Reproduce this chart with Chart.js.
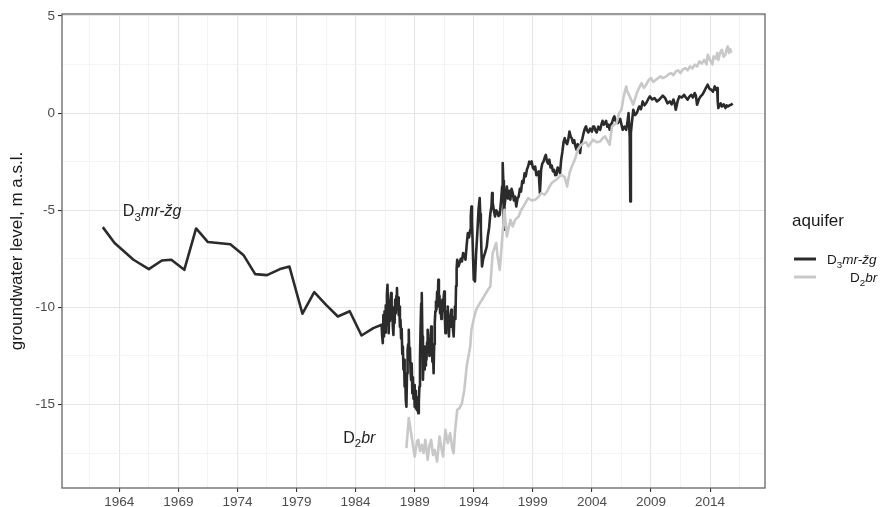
<!DOCTYPE html>
<html>
<head>
<meta charset="utf-8">
<style>
  body { margin: 0; background: #fff; }
  canvas { display: block; }
</style>
</head>
<body>
  <canvas id="levelChart" width="880" height="507"></canvas>
  <script src="https://cdn.jsdelivr.net/npm/chart.js"></script>
  <script>
    // groundwater level, m a.s.l. — D3mr-žg aquifer (yearly until 1986, then dense)
    const d3Years = [
      1962.6, 1963.6, 1965.2, 1966.5, 1967.6, 1968.4, 1969.5, 1970.5, 1971.5, 1973.4,
      1974.5, 1975.5, 1976.5, 1977.6, 1978.4, 1979.5, 1980.5, 1981.5, 1982.5, 1983.5,
      1984.5, 1985.5,
      1986.20, 1986.25, 1986.30, 1986.35, 1986.40, 1986.45, 1986.50, 1986.55, 1986.60, 1986.65,
      1986.70, 1986.75, 1986.80, 1986.85, 1986.90, 1986.95, 1987.00, 1987.05, 1987.10, 1987.15,
      1987.20, 1987.25, 1987.30, 1987.35, 1987.40, 1987.45, 1987.50, 1987.55, 1987.60, 1987.65,
      1987.70, 1987.75, 1987.80, 1987.85, 1987.90, 1987.95, 1988.00, 1988.05, 1988.10, 1988.15,
      1988.20, 1988.25, 1988.30, 1988.35, 1988.40, 1988.45, 1988.50, 1988.55, 1988.60, 1988.65,
      1988.70, 1988.75, 1988.80, 1988.85, 1988.90, 1988.95, 1989.00, 1989.05, 1989.10, 1989.15,
      1989.20, 1989.25, 1989.30, 1989.35, 1989.40, 1989.45, 1989.50, 1989.55, 1989.60, 1989.65,
      1989.70, 1989.75, 1989.80, 1989.85, 1989.90, 1989.95, 1990.00, 1990.05, 1990.10, 1990.15,
      1990.20, 1990.25, 1990.30, 1990.35, 1990.40, 1990.45, 1990.50, 1990.55, 1990.60, 1990.65,
      1990.70, 1990.75, 1990.80, 1990.85, 1990.90, 1990.95, 1991.00, 1991.05, 1991.10, 1991.15,
      1991.20, 1991.25, 1991.30, 1991.35, 1991.40, 1991.45, 1991.50, 1991.55, 1991.60, 1991.65,
      1991.70, 1991.75, 1991.80, 1991.85, 1991.90, 1991.95, 1992.00, 1992.05, 1992.10, 1992.15,
      1992.20, 1992.25, 1992.30, 1992.35, 1992.40, 1992.45, 1992.50, 1992.55, 1992.60,
      1992.7, 1992.8, 1992.9, 1993.0, 1993.1, 1993.2, 1993.3, 1993.4, 1993.5, 1993.6,
      1993.7, 1993.75, 1993.8, 1993.85, 1993.9, 1993.95, 1994.0, 1994.05, 1994.1, 1994.2,
      1994.3, 1994.4, 1994.5, 1994.55, 1994.6, 1994.65, 1994.7, 1994.8, 1994.9, 1995.0,
      1995.1, 1995.2, 1995.3, 1995.4, 1995.5, 1995.55, 1995.6, 1995.7, 1995.8, 1995.9,
      1996.0, 1996.1, 1996.2, 1996.3, 1996.4, 1996.45, 1996.5, 1996.55, 1996.6, 1996.7,
      1996.8, 1996.9, 1997.0, 1997.1, 1997.2, 1997.3, 1997.4, 1997.5, 1997.6, 1997.7,
      1997.8, 1997.9, 1998.0, 1998.1, 1998.2, 1998.3, 1998.4, 1998.5, 1998.6, 1998.7,
      1998.8, 1998.9, 1999.0, 1999.1, 1999.2, 1999.3, 1999.4, 1999.5, 1999.55, 1999.6,
      1999.7, 1999.8, 1999.9, 2000.0, 2000.1, 2000.2, 2000.3, 2000.4, 2000.5, 2000.6,
      2000.7, 2000.8, 2000.9, 2001.0, 2001.1, 2001.2, 2001.3, 2001.4, 2001.5, 2001.6,
      2001.7, 2001.8, 2001.9, 2002.0, 2002.1, 2002.2, 2002.3, 2002.4, 2002.5, 2002.6,
      2002.7, 2002.8, 2002.9, 2003.0, 2003.1, 2003.2, 2003.3, 2003.4, 2003.5, 2003.6,
      2003.7, 2003.85, 2004.0, 2004.1, 2004.2, 2004.3, 2004.4, 2004.55, 2004.7, 2004.8,
      2004.9, 2005.0, 2005.1, 2005.2, 2005.3, 2005.4, 2005.5, 2005.6, 2005.7, 2005.8,
      2005.9, 2006.0, 2006.2, 2006.4, 2006.6, 2006.75, 2006.9, 2007.0, 2007.1, 2007.2,
      2007.25, 2007.3, 2007.4, 2007.5, 2007.65, 2007.8, 2008.0, 2008.15, 2008.3, 2008.45,
      2008.6, 2008.75, 2008.9, 2009.1, 2009.3, 2009.5, 2009.7, 2009.85, 2010.0, 2010.2,
      2010.4, 2010.6, 2010.75, 2010.9, 2011.0, 2011.1, 2011.25, 2011.4, 2011.6, 2011.8,
      2011.95, 2012.1, 2012.25, 2012.4, 2012.55, 2012.7, 2012.8, 2012.9, 2013.05, 2013.2,
      2013.35, 2013.5, 2013.65, 2013.8, 2013.95, 2014.1, 2014.25, 2014.4, 2014.5, 2014.6,
      2014.65, 2014.7, 2014.8, 2014.9, 2015.0, 2015.15, 2015.3, 2015.4, 2015.5, 2015.65,
      2015.8, 2015.9
    ];
    const d3Levels = [
      -5.87, -6.69, -7.55, -8.03, -7.59, -7.55, -8.07, -5.94, -6.64, -6.75,
      -7.30, -8.29, -8.34, -8.03, -7.90, -10.33, -9.22, -9.87, -10.47, -10.20,
      -11.45, -11.07,
      -10.9, -11.5, -11.84, -10.4, -11.5, -10.2, -11.3, -9.9, -10.9, -9.4,
      -8.84, -10.4, -11.33, -10.1, -10.7, -9.6, -9.27, -10.6, -10.0, -11.0,
      -11.42, -10.2, -10.8, -9.6, -10.3, -9.4, -9.01, -10.1, -9.5, -10.4,
      -9.96, -11.0, -10.64, -11.6, -11.1, -12.4, -12.02, -13.2, -12.7, -14.08,
      -13.6, -14.8, -15.11, -13.4, -12.2, -11.9, -11.16, -12.70, -12.1, -13.3,
      -13.73, -12.9, -14.42, -13.6, -14.7, -14.0, -15.11, -14.3, -15.2, -14.6,
      -15.3, -14.8, -15.45, -14.9, -14.08, -12.6, -11.0, -9.8, -9.27, -11.5,
      -13.73, -12.6, -13.2, -12.02, -13.0, -12.3, -12.70, -11.8, -11.16, -12.2,
      -11.6, -12.5, -12.36, -11.4, -10.99, -12.1, -12.8, -12.2, -13.39, -11.9,
      -10.81, -10.2, -9.7, -10.1, -9.2, -9.8, -8.58, -9.96, -9.4, -10.3,
      -9.7, -10.6, -10.30, -9.6, -10.2, -9.5, -9.19, -10.4, -11.33, -10.5,
      -10.9, -10.2, -9.96, -10.8, -11.50, -10.6, -11.0, -10.4, -10.13, -10.9,
      -10.5, -11.2, -11.50, -10.5, -9.96, -10.6, -8.9, -8.0, -7.55,
      -7.9, -7.72, -7.5, -7.64, -7.2, -7.3, -7.55, -6.8, -6.18, -6.4,
      -6.01, -5.3, -4.81, -5.6, -6.5, -7.6, -8.58, -8.1, -8.67, -7.2,
      -6.2, -5.0, -4.38, -5.2, -6.0, -7.1, -7.90, -7.5, -7.3, -7.1,
      -6.87, -6.3, -5.9, -5.2, -4.8, -4.12, -4.6, -5.0, -5.32, -5.0,
      -5.1, -5.3, -5.24, -4.6, -3.78, -2.57, -3.5, -6.01, -4.8, -4.3,
      -3.78, -4.4, -4.0, -4.46, -3.9, -4.12, -4.5, -4.3, -4.81, -4.4,
      -4.3, -3.9, -4.04, -3.5, -3.6, -3.1, -3.26, -2.9, -2.75, -2.5,
      -2.6, -2.49, -2.8, -2.9, -2.75, -3.2, -3.1, -3.0, -3.6, -4.12,
      -2.92, -2.6, -2.5, -2.3, -2.15, -2.5, -2.6, -2.40, -2.8, -2.7,
      -3.0, -2.92, -3.2, -3.18, -2.8, -2.9, -3.09, -2.4, -2.0, -1.5,
      -1.29, -1.5, -1.6, -1.37, -0.95, -1.2, -1.3, -1.54, -1.4, -1.7,
      -1.89, -1.6, -1.7, -2.06, -1.5, -1.3, -1.03, -0.8, -0.69, -0.9,
      -1.0, -0.8, -0.95, -0.7, -0.7, -0.9, -1.0, -0.7, -0.86, -0.6,
      -0.4, -0.6, -0.52, -0.4, -0.7, -0.6, -0.86, -0.6, -0.5, -0.3,
      -0.17, -0.4, -0.52, -0.3, -0.86, -0.7, -0.86, -0.5, 0.0, -1.2,
      -4.55, -1.0, -0.4, 0.17, -0.1, 0.0, 0.34, 0.2, 0.60, 0.4,
      0.52, 0.7, 0.86, 0.7, 0.77, 0.6, 0.69, 0.8, 0.9, 0.77,
      0.5, 0.60, 0.45, 0.7, 0.5, 0.17, 0.6, 0.86, 0.8, 0.94,
      0.8, 0.69, 0.85, 0.94, 0.8, 1.03, 0.9, 0.43, 0.7, 0.86,
      0.95, 1.11, 1.3, 1.46, 1.25, 1.20, 1.1, 1.37, 1.2, 1.29,
      0.6, 0.26, 0.4, 0.5, 0.34, 0.45, 0.26, 0.4, 0.34, 0.4,
      0.43, 0.5
    ];

    // groundwater level, m a.s.l. — D2br aquifer
    const d2Years = [
      1988.3, 1988.5, 1988.7, 1988.9, 1989.0, 1989.2, 1989.3, 1989.45, 1989.6, 1989.75,
      1989.9, 1990.1, 1990.25, 1990.4, 1990.55, 1990.7, 1990.9, 1991.1, 1991.25, 1991.4,
      1991.6, 1991.8, 1992.0, 1992.2, 1992.3, 1992.4, 1992.6, 1992.8, 1993.0, 1993.2,
      1993.4, 1993.7, 1993.8, 1994.0, 1994.2, 1994.5, 1994.7, 1995.0, 1995.3, 1995.4,
      1995.6, 1995.9, 1996.0, 1996.2, 1996.4, 1996.6, 1996.8, 1997.1, 1997.3, 1997.5,
      1997.8, 1998.0, 1998.2, 1998.4, 1998.6, 1998.9, 1999.2, 1999.5, 1999.7, 2000.0,
      2000.2, 2000.4, 2000.6, 2000.8, 2001.0, 2001.2, 2001.4, 2001.7, 2001.9, 2002.1,
      2002.3, 2002.6, 2002.8, 2003.0, 2003.3, 2003.5, 2003.7, 2004.1, 2004.4, 2004.7,
      2004.9, 2005.1, 2005.3, 2005.5, 2005.7, 2006.1, 2006.3, 2006.5, 2006.7, 2006.9,
      2007.0, 2007.2, 2007.5, 2007.8, 2008.0, 2008.2, 2008.4, 2008.6, 2008.8, 2009.0,
      2009.2, 2009.4, 2009.6, 2009.8, 2010.0, 2010.3, 2010.5, 2010.7, 2010.9, 2011.1,
      2011.3, 2011.5, 2011.7, 2011.9, 2012.1, 2012.3, 2012.5, 2012.7, 2012.9, 2013.1,
      2013.3, 2013.5, 2013.7, 2013.8, 2014.0, 2014.2, 2014.3, 2014.5, 2014.6, 2014.7,
      2014.85, 2015.0, 2015.15, 2015.3, 2015.4, 2015.5, 2015.6, 2015.7, 2015.8
    ];
    const d2Levels = [
      -17.25, -15.70, -16.48, -17.3, -17.68, -16.9, -16.82, -17.4, -17.08, -17.5,
      -16.82, -17.85, -17.1, -16.82, -17.6, -17.34, -17.94, -16.65, -17.2, -17.68,
      -16.31, -16.99, -16.48, -17.34, -17.51, -16.48, -15.28, -15.19, -14.93, -14.25,
      -13.05, -12.0, -11.16, -10.6, -10.13, -9.8, -9.61, -9.3, -9.0, -8.93,
      -7.21, -6.69, -7.3, -8.07, -6.52, -4.98, -6.35, -5.49, -5.84, -5.5,
      -5.32, -5.0, -4.81, -4.6, -4.38, -4.5, -4.46, -4.3, -4.12, -4.2,
      -4.04, -3.8, -3.60, -3.5, -3.43, -3.3, -3.18, -3.3, -3.78, -3.1,
      -2.75, -2.32, -1.89, -1.7, -1.54, -1.5, -1.72, -1.37, -1.5, -1.46,
      -1.3, -1.20, -1.4, -1.63, -0.69, -0.5, 0.0, 0.17, 0.9, 1.37,
      1.1, 0.86, 0.43, 1.03, 1.3, 1.54, 1.3, 1.46, 1.7, 1.80,
      1.6, 1.71, 1.8, 1.89, 1.8, 1.89, 2.0, 2.06, 1.95, 2.14,
      2.2, 2.06, 2.25, 2.32, 2.2, 2.40, 2.3, 2.49, 2.4, 2.66,
      2.55, 2.74, 2.5, 3.0, 2.74, 2.5, 2.92, 2.8, 3.09, 2.74,
      3.1, 3.26, 2.9, 3.0, 3.3, 3.43, 3.09, 3.3, 3.1
    ];

    // axis ticks
    const yearTicks = [1964, 1969, 1974, 1979, 1984, 1989, 1994, 1999, 2004, 2009, 2014];
    const levelTicks = [5, 0, -5, -10, -15];

    // in-panel labels: [year, level]
    const d3LabelAt = [1964.3, -5.03];
    const d2LabelAt = [1982.95, -16.67];

    const FONT = '"Liberation Sans", Arial, sans-serif';
    const d3Runs = [['D', 'n'], ['3', 'sub'], ['mr-žg', 'it']];
    const d2Runs = [['D', 'n'], ['2', 'sub'], ['br', 'it']];

    // major ticks plus minor grid lines half way between them
    function withMinor(major, step) {
      const out = major.map(v => ({ value: v, major: true }));
      major.forEach(v => out.push({ value: v - step / 2, major: false }));
      out.push({ value: major[major.length - 1] + step / 2, major: false });
      return out.sort((a, b) => a.value - b.value);
    }

    function drawRich(ctx, x, y, runs, size) {
      let cx = x;
      runs.forEach(([text, style]) => {
        const sub = style === 'sub';
        const fs = sub ? size * 0.72 : size;
        ctx.font = (style === 'it' ? 'italic ' : '') + fs + 'px ' + FONT;
        ctx.fillText(text, cx, sub ? y + size * 0.28 : y);
        cx += ctx.measureText(text).width;
      });
    }

    const isMajor = c => c.tick && c.tick.major;

    const decorations = {
      id: 'decorations',
      beforeDraw(chart) {
        const ctx = chart.ctx;
        ctx.save();
        ctx.fillStyle = '#fff';
        ctx.fillRect(0, 0, chart.width, chart.height);
        ctx.restore();
      },
      afterDraw(chart) {
        const { ctx, chartArea: a, scales } = chart;
        ctx.save();
        // panel border
        ctx.strokeStyle = '#666';
        ctx.lineWidth = 1.3;
        ctx.strokeRect(a.left, a.top, a.right - a.left, a.bottom - a.top);

        // labels inside the panel
        ctx.fillStyle = '#222';
        ctx.textBaseline = 'alphabetic';
        ctx.textAlign = 'left';
        drawRich(ctx, scales.x.getPixelForValue(d3LabelAt[0]), scales.y.getPixelForValue(d3LabelAt[1]) + 5.7, d3Runs, 16);
        drawRich(ctx, scales.x.getPixelForValue(d2LabelAt[0]), scales.y.getPixelForValue(d2LabelAt[1]) + 5.7, d2Runs, 16);

        // legend
        ctx.fillStyle = '#1a1a1a';
        ctx.font = '17px ' + FONT;
        ctx.textBaseline = 'middle';
        ctx.fillText('aquifer', 792, 221);
        ctx.lineWidth = 3;
        ctx.strokeStyle = '#2b2b2b';
        ctx.beginPath(); ctx.moveTo(794, 259); ctx.lineTo(816, 259); ctx.stroke();
        ctx.strokeStyle = '#c8c8c8';
        ctx.beginPath(); ctx.moveTo(794, 277); ctx.lineTo(816, 277); ctx.stroke();
        ctx.textBaseline = 'alphabetic';
        drawRich(ctx, 827, 264, d3Runs, 13.5);
        drawRich(ctx, 850, 282, d2Runs, 13.5);
        ctx.restore();
      }
    };

    new Chart(document.getElementById('levelChart'), {
      type: 'line',
      data: {
        datasets: [
          {
            label: 'D3mr-žg',
            data: d3Years.map((x, i) => ({ x, y: d3Levels[i] })),
            borderColor: '#2b2b2b',
            borderWidth: 2.6,
            order: 1
          },
          {
            label: 'D2br',
            data: d2Years.map((x, i) => ({ x, y: d2Levels[i] })),
            borderColor: '#c8c8c8',
            borderWidth: 2.6,
            order: 0
          }
        ]
      },
      options: {
        responsive: false,
        animation: false,
        layout: { padding: { left: 0, top: 14, right: 115, bottom: 0 } },
        elements: {
          point: { radius: 0 },
          line: { tension: 0, borderJoinStyle: 'round', fill: false }
        },
        plugins: { legend: { display: false }, tooltip: { enabled: false } },
        scales: {
          x: {
            type: 'linear',
            min: 1959.15,
            max: 2018.65,
            afterBuildTicks: s => { s.ticks = withMinor(yearTicks, 5); },
            afterFit: s => { s.height = 19; },
            border: { display: false },
            grid: {
              color: c => isMajor(c) ? '#e6e6e6' : '#f1f1f1',
              lineWidth: c => isMajor(c) ? 1.1 : 0.8,
              tickColor: c => isMajor(c) ? '#333' : 'rgba(0,0,0,0)',
              tickLength: 4
            },
            ticks: {
              autoSkip: false,
              maxRotation: 0,
              padding: 2,
              color: '#4d4d4d',
              font: { family: FONT, size: 13.5 },
              callback: (v, i, ticks) => ticks[i].major ? String(v) : ''
            }
          },
          y: {
            min: -19.3,
            max: 5.1,
            afterBuildTicks: s => { s.ticks = withMinor(levelTicks.slice().reverse(), 5); },
            afterFit: s => { s.width = 62; },
            border: { display: false },
            grid: {
              color: c => isMajor(c) ? '#e6e6e6' : '#f1f1f1',
              lineWidth: c => isMajor(c) ? 1.1 : 0.8,
              tickColor: c => isMajor(c) ? '#333' : 'rgba(0,0,0,0)',
              tickLength: 4
            },
            ticks: {
              autoSkip: false,
              padding: 3,
              color: '#4d4d4d',
              font: { family: FONT, size: 13.5 },
              callback: (v, i, ticks) => ticks[i].major ? String(v) : ''
            },
            title: {
              display: true,
              text: 'groundwater level, m a.s.l.',
              color: '#1a1a1a',
              font: { family: FONT, size: 17 },
              padding: { top: 7, bottom: 0 }
            }
          }
        }
      },
      plugins: [decorations]
    });
  </script>
</body>
</html>
